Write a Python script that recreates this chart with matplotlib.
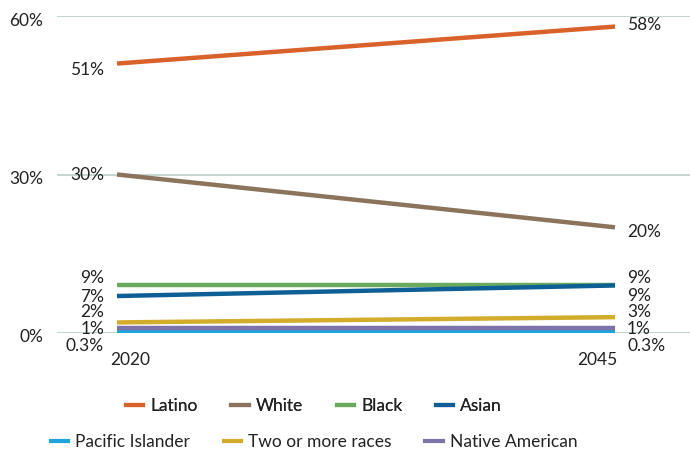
import matplotlib.pyplot as plt
import matplotlib.transforms as mtransforms
from matplotlib.lines import Line2D

plt.rcParams['font.family'] = ['Lato', 'DejaVu Sans']

years = [2020, 2045]
groups = ["Latino", "White", "Black", "Asian",
          "Pacific Islander", "Two or more races", "Native American"]
start_vals = [51, 30, 9, 7, 0.3, 2, 1]
end_vals = [58, 20, 9, 9, 0.3, 3, 1]
start_text = ["51%", "30%", "9%", "7%", "0.3%", "2%", "1%"]
end_text = ["58%", "20%", "9%", "9%", "0.3%", "3%", "1%"]
colors = ["#d9622b", "#8b735c", "#6aaa5e", "#0e5f96",
          "#1fa3dc", "#d4ac2c", "#7d72aa"]

# label nudges in pixels (positive = up), left and right ends
left_dy = [-6, 0, 7, -1, -15, 10, -1]
right_dy = [2, -5, 7, -11, -15, 5, -1]

FS = 12.5
TXT = '#222222'

fig = plt.figure(figsize=(6.9, 4.5), dpi=100)
W, H = 690, 450
ax = fig.add_axes([57 / W, (H - 333) / H, 633 / W, 317 / H])

px_per_year = 498 / 25
ax.set_xlim(2020 - 60 / px_per_year, 2045 + 75 / px_per_year)
ax.set_ylim(0, 60)

for s, e, c in zip(start_vals, end_vals, colors):
    ax.plot(years, [s, e], color=c, lw=3.2, solid_capstyle='butt', zorder=3)

for i in range(len(groups)):
    ax.annotate(start_text[i], (years[0], start_vals[i]), xytext=(-13, left_dy[i]),
                textcoords='offset pixels', ha='right', va='center', fontsize=FS,
                color=TXT)
    ax.annotate(end_text[i], (years[1], end_vals[i]), xytext=(12, right_dy[i]),
                textcoords='offset pixels', ha='left', va='center', fontsize=FS,
                color=TXT)

ax.set_yticks([0, 30, 60])
ax.set_yticklabels(["0%", "30%", "60%"], fontsize=FS, color=TXT)
ax.tick_params(axis='y', length=0, pad=10)
shift = mtransforms.ScaledTranslation(0, -3 / 100, fig.dpi_scale_trans)
for lab in ax.get_yticklabels():
    lab.set_transform(lab.get_transform() + shift)
ax.set_xticks([])
ax.grid(axis='y', color='#b9d0c7', lw=1.2)
ax.set_axisbelow(True)
for sp in ax.spines.values():
    sp.set_visible(False)

ax.annotate("2020", (years[0], 0), xytext=(-7, -27), textcoords='offset pixels',
            ha='left', va='center', fontsize=FS, color=TXT)
ax.annotate("2045", (years[1], 0), xytext=(2, -27), textcoords='offset pixels',
            ha='right', va='center', fontsize=FS, color=TXT)

handles = [Line2D([], [], color=c, lw=3.0) for c in colors]
leg_kw = dict(frameon=False, fontsize=FS, handlelength=1.0,
              columnspacing=1.95, handletextpad=0.4, labelcolor=TXT)
leg1 = fig.legend(handles[:4], groups[:4], ncol=4, loc='center',
                  bbox_to_anchor=(0.455, (H - 406) / H), **leg_kw)
fig.legend(handles[4:], groups[4:], ncol=3, loc='center',
           bbox_to_anchor=(0.455, (H - 442) / H), **leg_kw)
fig.add_artist(leg1)

fig.savefig("out.png", dpi=100)
